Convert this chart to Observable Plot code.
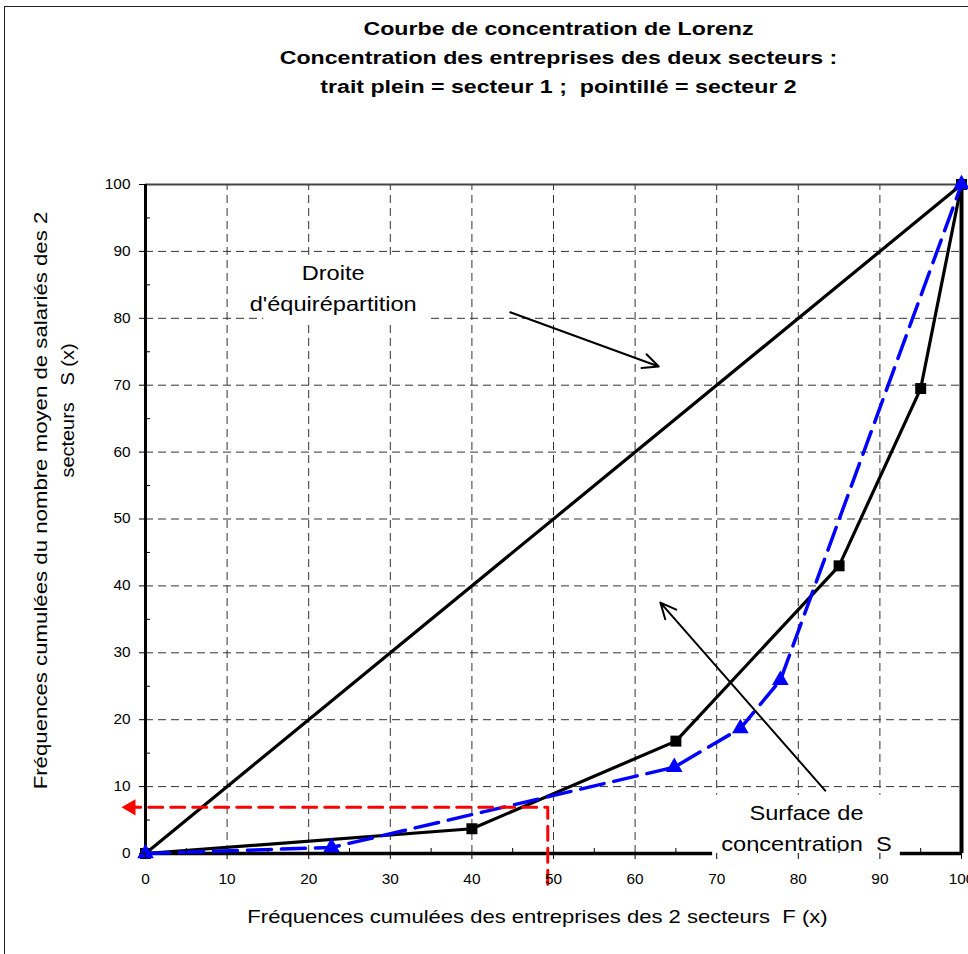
<!DOCTYPE html>
<html>
<head>
<meta charset="utf-8">
<script src="https://cdn.jsdelivr.net/npm/d3@7"></script>
<script src="https://cdn.jsdelivr.net/npm/@observablehq/plot@0.6"></script>
<style>
  html, body { margin: 0; padding: 0; background: #fff; }
  #wrap { position: relative; width: 968px; height: 954px; overflow: hidden; }
  #frame { position: absolute; left: 4px; top: 6px; width: 1000px; height: 1000px; border: 1.5px solid #222; box-sizing: border-box; }
  #plot { position: absolute; left: 0; top: 0; }
  #plot svg text { white-space: pre; }
</style>
</head>
<body>
<div id="wrap"><div id="frame"></div><div id="plot"></div></div>
<script>
// ---- data ----
const titleLines = [
  "Courbe de concentration de Lorenz",
  "Concentration des entreprises des deux secteurs :",
  "trait plein = secteur 1 ;  pointillé = secteur 2"
];
const xLabel = "Fréquences cumulées des entreprises des 2 secteurs  F (x)";
const yLabel1 = "Fréquences cumulées du nombre moyen de salariés des 2";
const yLabel2 = "secteurs   S (x)";

const majorTicks = [0, 10, 20, 30, 40, 50, 60, 70, 80, 90, 100];
const minorTicks = [5, 15, 25, 35, 45, 55, 65, 75, 85, 95];
const gridTicks = [10, 20, 30, 40, 50, 60, 70, 80, 90];

// secteur 1 (trait plein)
const s1F = [0, 40, 65, 85, 95, 100];
const s1S = [0, 3.7, 16.8, 43, 69.5, 100];
// secteur 2 (pointillé)
const s2F = [0, 22.8, 64.8, 72.9, 77.8, 100];
const s2S = [0, 0.9, 12.9, 18.7, 25.9, 100];
// droite d'équirépartition
const eqF = [0, 100];
const eqS = [0, 100];
// lecture en rouge : F = 49.3 -> S = 6.9
const readF = [49.3, 49.3, -1.8];
const readS = [-4.6, 6.9, 6.9];

// annotations
const noteText = ["Droite\nd'équirépartition", "Surface de\nconcentration  S"];
const noteF = [23.0, 81.0];
const noteS = [84.9, 4.1];
const noteBoxF1 = [14.5, 69.5];
const noteBoxF2 = [34.7, 92.5];
const noteBoxS1 = [79.6, -0.45];
const noteBoxS2 = [89.4, 8.7];
const arrowF1 = [44.7, 83.3];
const arrowS1 = [80.9, 9.4];
const arrowF2 = [62.9, 63.1];
const arrowS2 = [72.8, 37.5];

// ---- tables ----
const s1 = s1F.map((f, i) => ({f, s: s1S[i]}));
const s2 = s2F.map((f, i) => ({f, s: s2S[i]}));
const eq = eqF.map((f, i) => ({f, s: eqS[i]}));
const read = readF.map((f, i) => ({f, s: readS[i]}));
const notes = noteText.map((t, i) => ({t, f: noteF[i], s: noteS[i]}));
const boxes = noteBoxF1.map((f1, i) => ({f1, f2: noteBoxF2[i], s1: noteBoxS1[i], s2: noteBoxS2[i]}));
const arrows = arrowF1.map((f1, i) => ({f1, s1: arrowS1[i], f2: arrowF2[i], s2: arrowS2[i]}));

const font = "'Liberation Sans', Arial, sans-serif";
const dash = "8,5";

const chart = Plot.plot({
  width: 968,
  height: 954,
  marginLeft: 145,
  marginRight: 7,
  marginTop: 184,
  marginBottom: 101,
  x: {domain: [0, 100]},
  y: {domain: [0, 100]},
  style: {fontFamily: font, fontSize: "14px", background: "transparent", overflow: "visible", color: "#000"},
  marks: [
    // grid
    Plot.ruleX(gridTicks, {y1: 0, y2: 100, stroke: "#333", strokeWidth: 1, strokeDasharray: dash}),
    Plot.ruleY(gridTicks, {x1: 0, x2: 100, stroke: "#333", strokeWidth: 1, strokeDasharray: dash}),
    // white box behind "Droite"
    Plot.rect(boxes.slice(0, 1), {x1: "f1", x2: "f2", y1: "s1", y2: "s2", fill: "#fff"}),
    // top frame line
    Plot.ruleY([100], {x1: 0, x2: 100, stroke: "#444", strokeWidth: 2}),
    // axes lines
    Plot.ruleY([0], {x1: 0, x2: 100, stroke: "#000", strokeWidth: 3.5}),
    Plot.ruleX([0], {y1: 0, y2: 100, stroke: "#000", strokeWidth: 3}),
    Plot.ruleX([100], {y1: 0, y2: 100, stroke: "#000", strokeWidth: 4}),
    // droite d'équirépartition
    Plot.line(eq, {x: "f", y: "s", stroke: "#000", strokeWidth: 3.2}),
    // secteur 1
    Plot.line(s1, {x: "f", y: "s", stroke: "#000", strokeWidth: 3.2}),
    Plot.dot(s1, {x: "f", y: "s", symbol: "square", r: 6.2, fill: "#000"}),
    // secteur 2
    Plot.line(s2, {x: "f", y: "s", stroke: "#0000ff", strokeWidth: 3.5, strokeDasharray: "24,10"}),
    Plot.dot(s2, {x: "f", y: "s", symbol: "triangle", r: 6.2, fill: "#0000ff"}),
    // red reading
    Plot.line(read, {x: "f", y: "s", stroke: "#ff0000", strokeWidth: 3, strokeDasharray: "14,8"}),
    Plot.dot(read.slice(2), {x: "f", y: "s", symbol: "triangle", r: 6, rotate: -90, fill: "#ff0000"}),
    // annotation arrows
    Plot.arrow(arrows, {x1: "f1", y1: "s1", x2: "f2", y2: "s2", stroke: "#000", strokeWidth: 2, headLength: 13, headAngle: 50}),
    // white box behind "Surface"
    Plot.rect(boxes.slice(1), {x1: "f1", x2: "f2", y1: "s1", y2: "s2", fill: "#fff"}),
    // axes
    Plot.axisX(majorTicks, {tickSize: 6, tickPadding: 15, fontSize: 14, label: null, stroke: "#000", ariaDescription: "stretch-ticks"}),
    Plot.axisX(minorTicks, {tickSize: -5, text: null, label: null, stroke: "#000"}),
    Plot.axisY(majorTicks, {tickSize: 6, tickPadding: 9, fontSize: 14, label: null, stroke: "#000", ariaDescription: "stretch-ticks"}),
    Plot.axisY(minorTicks, {tickSize: -5, text: null, label: null, stroke: "#000"}),
    // annotation texts
    Plot.text(notes, {x: "f", y: "s", text: "t", fontSize: 20, lineHeight: 1.55, fill: "#000", ariaDescription: "stretch-notes"}),
    // axis labels
    Plot.text([xLabel], {frameAnchor: "bottom", text: d => d, textAnchor: "middle", dy: 69, dx: -16, fontSize: 19, fill: "#000", ariaDescription: "stretch-xlabel"}),
    Plot.text([yLabel1], {frameAnchor: "left", text: d => d, textAnchor: "middle", rotate: -90, dx: -105, dy: -18.5, fontSize: 19, fill: "#000", ariaDescription: "stretch-ylabel1"}),
    Plot.text([yLabel2], {frameAnchor: "left", text: d => d, textAnchor: "middle", rotate: -90, dx: -78, dy: -108.5, fontSize: 19, fill: "#000", ariaDescription: "stretch-ylabel2"}),
    // title
    Plot.text([titleLines.join("\n")], {frameAnchor: "top", text: d => d, textAnchor: "middle", lineAnchor: "middle", lineHeight: 1.53, dx: 5, dy: -130, fontSize: 19, fontWeight: "bold", fill: "#000", ariaDescription: "stretch-title"})
  ]
});
document.getElementById("plot").appendChild(chart);

// horizontal stretch of text glyphs (the reference font is wider than Arial)
const stretch = {"stretch-ticks": 1.1, "stretch-notes": 1.18, "stretch-xlabel": 1.16, "stretch-ylabel1": 1.17, "stretch-ylabel2": 1.05, "stretch-title": 1.22};
for (const [label, sx] of Object.entries(stretch)) {
  chart.querySelectorAll(`g[aria-description='${label}'] text`).forEach(t => {
    let tr = t.getAttribute("transform") || "";
    if (!tr && t.hasAttribute("x")) {
      tr = `translate(${t.getAttribute("x")},${t.getAttribute("y") || 0})`;
      t.removeAttribute("x");
      t.removeAttribute("y");
    }
    t.setAttribute("transform", `${tr} scale(${sx},1)`);
  });
}
</script>
</body>
</html>
